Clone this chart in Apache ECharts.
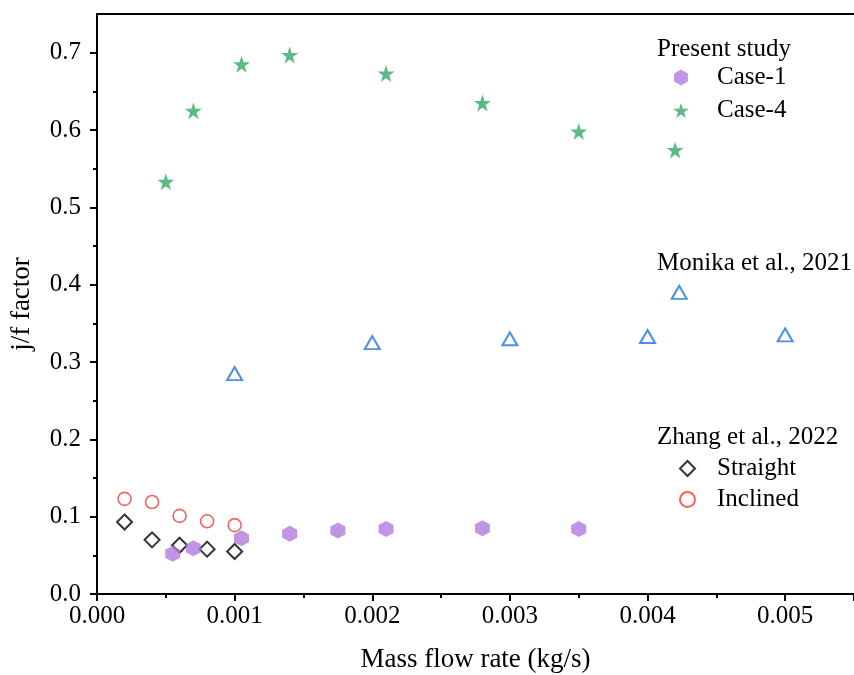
<!DOCTYPE html>
<html><head><meta charset="utf-8">
<script src="https://cdn.jsdelivr.net/npm/echarts@6/dist/echarts.min.js"></script>
<style>html,body{margin:0;padding:0;background:#fff}#c{width:854px;height:675px}</style>
</head><body><div id="c"></div>
<script>
const case1X = [0.00055, 0.0007, 0.00105, 0.0014, 0.00175, 0.0021, 0.0028, 0.0035];
const case1Y = [0.052, 0.059, 0.072, 0.078, 0.082, 0.084, 0.085, 0.084];
const case4X = [0.0005, 0.0007, 0.00105, 0.0014, 0.0021, 0.0028, 0.0035, 0.0042];
const case4Y = [0.533, 0.625, 0.685, 0.697, 0.673, 0.635, 0.598, 0.574];
const monikaX = [0.001, 0.002, 0.003, 0.004, 0.00423, 0.005];
const monikaY = [0.285, 0.325, 0.330, 0.333, 0.390, 0.335];
const straightX = [0.0002, 0.0004, 0.0006, 0.0008, 0.001];
const straightY = [0.093, 0.070, 0.063, 0.058, 0.055];
const inclinedX = [0.0002, 0.0004, 0.0006, 0.0008, 0.001];
const inclinedY = [0.123, 0.119, 0.101, 0.094, 0.089];
const xTicks = ['0.000','0.001','0.002','0.003','0.004','0.005'];
const yTicks = ['0.0','0.1','0.2','0.3','0.4','0.5','0.6','0.7'];

const zip = (a, b) => a.map((v, i) => [v, b[i]]);
const FONT = 'Liberation Serif';
const hexPath = 'path://M0,-1 L0.866,-0.5 L0.866,0.5 L0,1 L-0.866,0.5 L-0.866,-0.5 Z';
const starPath = 'path://M0,-1 L0.2245,-0.309 L0.951,-0.309 L0.363,0.118 L0.588,0.809 L0,0.382 L-0.588,0.809 L-0.363,0.118 L-0.951,-0.309 L-0.2245,-0.309 Z';

const chart = echarts.init(document.getElementById('c'));
const legendText = { fontFamily: FONT, fontSize: 25, color: '#000' };
const yTickVals = yTicks.map(Number);
chart.setOption({
  animation: false,
  backgroundColor: '#fff',
  grid: { left: 97, right: 0, top: 14, bottom: 81, outerBoundsMode: 'none', containLabel: false },
  title: [
    { text: 'Present study', left: 652, top: 32, textStyle: { fontFamily: FONT, fontSize: 25, fontWeight: 'normal', color: '#000' } },
    { text: 'Monika et al., 2021', left: 652, top: 246, textStyle: { fontFamily: FONT, fontSize: 25, fontWeight: 'normal', color: '#000' } },
    { text: 'Zhang et al., 2022', left: 652, top: 420, textStyle: { fontFamily: FONT, fontSize: 25, fontWeight: 'normal', color: '#000' } }
  ],
  legend: [
    { data: ['Case-1', 'Case-4'], orient: 'vertical', left: 668, top: 60, itemGap: 8, itemWidth: 16, itemHeight: 16, textStyle: Object.assign({ padding: [0, 0, 0, 23] }, legendText) },
    { data: ['Straight', 'Inclined'], orient: 'vertical', left: 674, top: 451, itemGap: 6, itemWidth: 15, itemHeight: 15, textStyle: Object.assign({ padding: [0, 0, 0, 17] }, legendText) }
  ],
  xAxis: [{
    type: 'value', min: 0, max: 0.0055, interval: 0.001,
    name: 'Mass flow rate (kg/s)', nameLocation: 'middle', nameGap: 52,
    nameTextStyle: { fontFamily: FONT, fontSize: 27, color: '#000' },
    axisLine: { lineStyle: { color: '#000', width: 2 } },
    axisTick: { show: true, inside: false, length: 7, lineStyle: { color: '#000', width: 2 } },
    minorTick: { show: true, splitNumber: 2, length: 4, lineStyle: { color: '#000', width: 2 } },
    splitLine: { show: false },
    axisLabel: { fontFamily: FONT, fontSize: 25, color: '#000', margin: 10, showMaxLabel: false,
      formatter: v => { const i = Math.round(v / 0.001); return Math.abs(v - i * 0.001) < 1e-9 && i < xTicks.length ? xTicks[i] : ''; } }
  }, {
    type: 'value', position: 'top', min: 0, max: 0.0055,
    axisLine: { show: true, lineStyle: { color: '#000', width: 2 } },
    axisTick: { show: false }, axisLabel: { show: false }, splitLine: { show: false }
  }],
  yAxis: {
    type: 'value', min: 0, max: 0.75, interval: 0.1,
    name: 'j/f factor', nameLocation: 'middle', nameGap: 62,
    nameTextStyle: { fontFamily: FONT, fontSize: 27, color: '#000' },
    axisLine: { show: true, lineStyle: { color: '#000', width: 2 } },
    axisTick: { show: true, inside: false, length: 7, customValues: yTickVals, lineStyle: { color: '#000', width: 2 } },
    minorTick: { show: true, splitNumber: 2, length: 4, lineStyle: { color: '#000', width: 2 } },
    splitLine: { show: false },
    axisLabel: { fontFamily: FONT, fontSize: 25, color: '#000', margin: 16, showMaxLabel: false,
      formatter: v => { const i = Math.round(v / 0.1); return Math.abs(v - i * 0.1) < 1e-9 && i < yTicks.length ? yTicks[i] : ''; } }
  },
  series: [
    { name: 'Case-1', type: 'scatter', data: zip(case1X, case1Y), symbol: hexPath, symbolSize: [15, 16], itemStyle: { color: '#b07ae0' }, z: 3 },
    { name: 'Case-4', type: 'scatter', data: zip(case4X, case4Y), symbol: starPath, symbolSize: 17, itemStyle: { color: '#34a965' } },
    { name: 'Monika', type: 'scatter', data: zip(monikaX, monikaY), symbol: 'triangle', symbolSize: [15, 13], itemStyle: { color: 'rgba(0,0,0,0)', borderColor: '#2174e0', borderWidth: 2 } },
    { name: 'Straight', type: 'scatter', data: zip(straightX, straightY), symbol: 'diamond', symbolSize: [15, 15], itemStyle: { color: 'rgba(0,0,0,0)', borderColor: '#000', borderWidth: 2 } },
    { name: 'Inclined', type: 'scatter', data: zip(inclinedX, inclinedY), symbol: 'circle', symbolSize: 13, itemStyle: { color: 'rgba(0,0,0,0)', borderColor: '#f03c3c', borderWidth: 1.6 } }
  ]
});
</script></body></html>
